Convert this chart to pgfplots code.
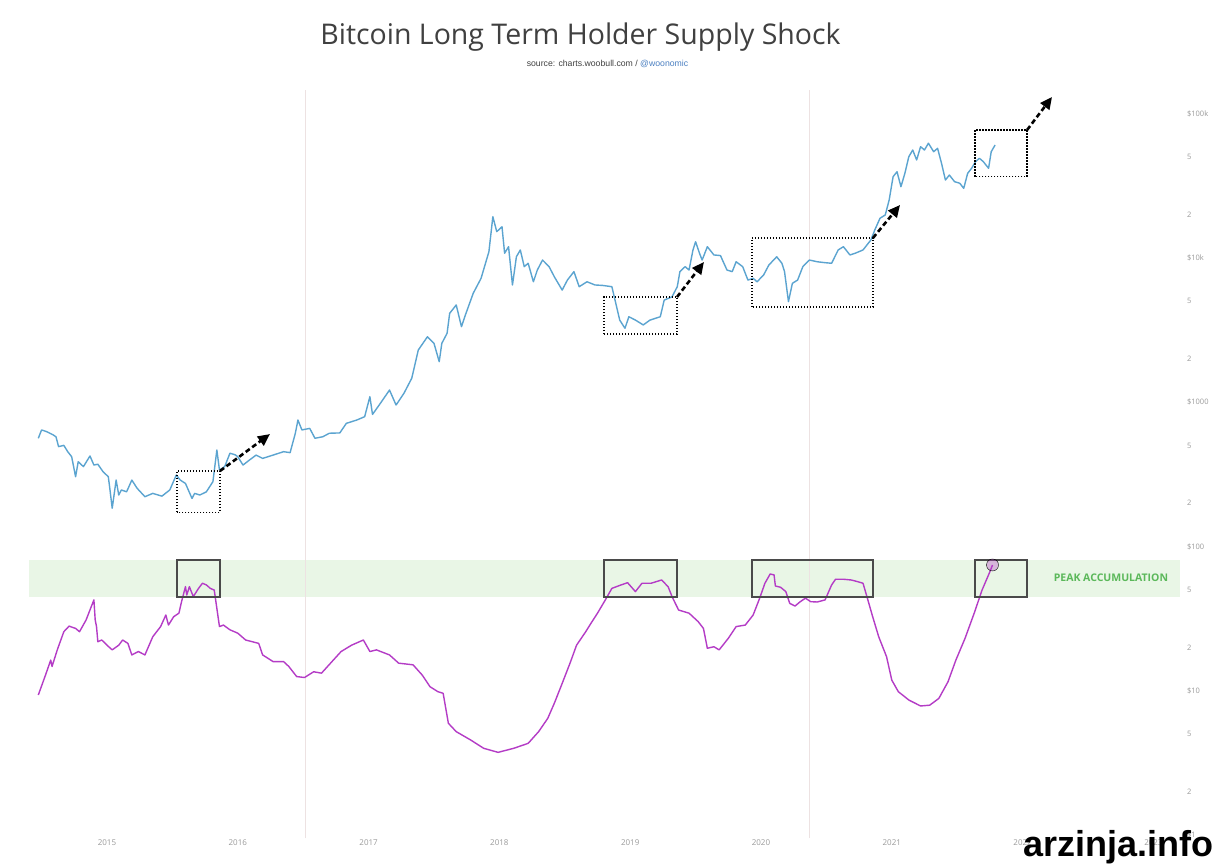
\documentclass[border=0pt]{standalone}
\usepackage{fontspec}
\setmainfont{Open Sans}
\newfontfamily\wmfont{Liberation Sans}
\usepackage{pgfplots}
\pgfplotsset{compat=1.18}
\usetikzlibrary{arrows.meta}
\definecolor{pricecol}{HTML}{5BA4D0}
\definecolor{ltcol}{HTML}{B43CC6}
\definecolor{bandcol}{HTML}{E9F6E6}
\definecolor{peakcol}{HTML}{5BB85A}
\definecolor{ticklab}{HTML}{9A9A9A}
\definecolor{halv}{HTML}{EDE2E2}
\definecolor{titlecol}{HTML}{404040}
\definecolor{boxcol}{HTML}{4A4A4A}
\definecolor{linkcol}{HTML}{4A7FC1}
\begin{document}
\begin{tikzpicture}
\path[use as bounding box, fill=white] (0,0) rectangle (1217pt,-864pt);
\pgfplotsset{every axis/.append style={scale only axis, width=1151.1pt,
  xmin=2014.4, xmax=2023.2, ymode=log, axis line style={draw=none},
  major tick style={draw=none}, minor tick style={draw=none},
  ytick pos=right, yticklabel pos=right,
  yticklabel style={anchor=west, font=\fontsize{7.5}{8}\selectfont, text=ticklab, xshift=4pt},
  /pgf/number format/assume math mode=true, clip=false}}
% Upper price axis
\begin{axis}[at={(28.5pt,-540pt)}, anchor=south west, height=450pt,
  ymin=110.1, ymax=146780, xtick=\empty,
  ytick={200,500,1000,2000,5000,10000,20000,50000,100000},
  yticklabels={2,5,\$1000,2,5,\$10k,2,5,\$100k}]
\draw[halv, line width=1pt] (axis cs:2016.52,110.1) -- (axis cs:2016.52,146780);
\draw[halv, line width=1pt] (axis cs:2020.37,110.1) -- (axis cs:2020.37,146780);
\addplot[pricecol, line width=1.4pt, line join=round] coordinates {
(2014.475,560)(2014.50,640)(2014.54,622)(2014.59,590)(2014.61,574)(2014.63,490)(2014.67,500)(2014.70,452)(2014.73,417)(2014.76,303)(2014.78,385)(2014.82,356)(2014.87,422)(2014.90,365)(2014.93,370)(2014.97,328)(2015.01,303)(2015.02,258)(2015.04,183)(2015.07,287)(2015.09,226)(2015.11,245)(2015.15,238)(2015.19,287)(2015.23,252)(2015.29,220)(2015.35,232)(2015.42,222)(2015.48,245)(2015.53,311)(2015.56,287)(2015.60,272)(2015.65,214)(2015.67,232)(2015.71,226)(2015.76,238)(2015.81,280)(2015.84,464)(2015.86,337)(2015.90,356)(2015.94,441)(2015.98,430)(2016.00,417)(2016.04,365)(2016.09,396)(2016.14,428)(2016.19,406)(2016.27,428)(2016.35,452)(2016.40,445)(2016.44,607)(2016.46,750)(2016.49,640)(2016.55,656)(2016.59,560)(2016.65,574)(2016.70,607)(2016.78,610)(2016.83,711)(2016.91,750)(2016.97,791)(2017.01,1089)(2017.03,820)(2017.09,979)(2017.16,1211)(2017.21,953)(2017.27,1148)(2017.33,1462)(2017.38,2296)(2017.45,2840)(2017.50,2556)(2017.54,1905)(2017.56,2556)(2017.60,3000)(2017.62,4130)(2017.67,4720)(2017.71,3335)(2017.74,4020)(2017.80,5690)(2017.86,7230)(2017.92,11070)(2017.95,19360)(2017.98,15240)(2018.02,16480)(2018.04,10790)(2018.07,11980)(2018.10,6494)(2018.13,10200)(2018.16,11370)(2018.19,8710)(2018.22,9190)(2018.26,6840)(2018.29,8250)(2018.33,9680)(2018.38,8710)(2018.42,7410)(2018.48,5990)(2018.52,7030)(2018.57,8040)(2018.61,6320)(2018.67,6840)(2018.73,6500)(2018.79,6450)(2018.86,6320)(2018.89,4840)(2018.92,3706)(2018.96,3250)(2018.99,3910)(2019.04,3706)(2019.10,3430)(2019.15,3700)(2019.23,3910)(2019.26,5100)(2019.32,5380)(2019.36,6320)(2019.38,8040)(2019.42,8710)(2019.45,8250)(2019.48,11370)(2019.50,12970)(2019.53,10790)(2019.55,9680)(2019.59,11980)(2019.64,10500)(2019.69,10400)(2019.74,8250)(2019.78,8040)(2019.81,9420)(2019.86,8710)(2019.90,7030)(2019.94,7230)(2019.97,6840)(2020.02,7620)(2020.06,8930)(2020.12,10200)(2020.16,9190)(2020.18,8040)(2020.21,4980)(2020.24,6670)(2020.28,7030)(2020.32,8710)(2020.37,9680)(2020.43,9420)(2020.48,9300)(2020.54,9190)(2020.59,11370)(2020.63,11980)(2020.68,10500)(2020.72,10790)(2020.78,11370)(2020.84,13340)(2020.87,15650)(2020.91,18890)(2020.95,19900)(2020.98,25300)(2021.01,36700)(2021.04,39720)(2021.07,31270)(2021.10,38730)(2021.13,50470)(2021.16,56230)(2021.19,47940)(2021.22,59290)(2021.25,56230)(2021.28,62690)(2021.32,54700)(2021.35,57780)(2021.38,45530)(2021.41,34800)(2021.44,37680)(2021.48,33880)(2021.52,33040)(2021.55,30460)(2021.58,38730)(2021.61,41960)(2021.64,46650)(2021.67,49250)(2021.70,46650)(2021.74,41960)(2021.76,54700)(2021.79,60940)
};
\tikzset{dbox/.style={black, line width=1.1pt, dash pattern=on 1.4pt off 1.6pt},
  darr/.style={black, line width=2.6pt, dash pattern=on 5pt off 3pt, -{Triangle[length=12pt,width=11pt]}}}
\draw[dbox] (axis cs:2015.535,172) rectangle (axis cs:2015.864,332);
\draw[dbox] (axis cs:2018.80,2966) rectangle (axis cs:2019.358,5360);
\draw[dbox] (axis cs:2019.931,4570) rectangle (axis cs:2020.856,13770);
\draw[dbox] (axis cs:2021.636,36700) rectangle (axis cs:2022.034,77420);
\draw[darr] (axis cs:2015.864,332) -- (axis cs:2016.246,599);
\draw[darr] (axis cs:2019.358,5360) -- (axis cs:2019.564,9380);
\draw[darr] (axis cs:2020.856,13770) -- (axis cs:2021.063,23340);
\draw[darr] (axis cs:2022.034,77420) -- (axis cs:2022.225,131200);
\end{axis}
% Lower LTH axis
\begin{axis}[at={(28.5pt,-838pt)}, anchor=south west, height=298pt,
  ymin=0.953, ymax=111.8,
  xtick={2015,2016,2017,2018,2019,2020,2021,2022,2023},
  xticklabels={2015,2016,2017,2018,2019,2020,2021,2022,2023},
  xticklabel style={anchor=center, yshift=-5pt, font=\fontsize{8}{9}\selectfont, text=ticklab},
  ytick={1,2,5,10,20,50,100},
  yticklabels={\$1,2,5,\$10,2,5,\$100}]
\fill[bandcol] (axis cs:2014.4,44.96) rectangle (axis cs:2023.2,81.2);
\draw[halv, line width=1pt] (axis cs:2016.52,0.953) -- (axis cs:2016.52,111.8);
\draw[halv, line width=1pt] (axis cs:2020.37,0.953) -- (axis cs:2020.37,111.8);
\node[anchor=east, text=peakcol, font=\bfseries\fontsize{10.5}{12}\selectfont, inner sep=0pt] at (axis cs:2023.114,61.2) {PEAK ACCUMULATION};
\addplot[ltcol, line width=1.4pt, line join=round] coordinates {
(2014.475,9.38)(2014.53,12.9)(2014.57,16.4)(2014.58,14.8)(2014.62,19.3)(2014.67,25.8)(2014.71,28.2)(2014.76,27.2)(2014.79,25.8)(2014.84,31.1)(2014.90,42.9)(2014.91,31.1)(2014.92,28.0)(2014.93,22.0)(2014.96,22.6)(2015.00,20.8)(2015.04,19.3)(2015.09,20.8)(2015.12,22.6)(2015.16,21.4)(2015.19,17.8)(2015.24,18.8)(2015.29,17.8)(2015.35,23.8)(2015.41,28.0)(2015.45,33.7)(2015.47,28.7)(2015.51,32.8)(2015.55,34.7)(2015.57,41.7)(2015.60,53.0)(2015.61,46.4)(2015.63,53.0)(2015.66,45.2)(2015.70,51.6)(2015.73,56.0)(2015.76,54.5)(2015.79,51.6)(2015.82,50.2)(2015.84,37.5)(2015.86,28.0)(2015.89,28.7)(2015.94,26.6)(2016.00,25.2)(2016.06,22.6)(2016.11,22.0)(2016.16,21.4)(2016.19,17.8)(2016.27,16.0)(2016.35,16.0)(2016.39,14.8)(2016.45,12.6)(2016.51,12.4)(2016.58,13.6)(2016.64,13.3)(2016.72,16.0)(2016.79,18.8)(2016.87,20.8)(2016.96,22.6)(2017.01,18.8)(2017.06,19.3)(2017.16,17.8)(2017.23,15.6)(2017.34,15.2)(2017.41,12.9)(2017.47,10.7)(2017.53,9.89)(2017.57,9.64)(2017.61,5.97)(2017.67,5.22)(2017.78,4.57)(2017.88,4.00)(2017.99,3.75)(2018.11,4.00)(2018.22,4.33)(2018.30,5.22)(2018.37,6.46)(2018.42,8.22)(2018.47,10.7)(2018.54,15.6)(2018.59,20.8)(2018.66,25.8)(2018.70,29.5)(2018.75,34.7)(2018.81,42.9)(2018.86,51.6)(2018.93,54.5)(2018.98,56.5)(2019.04,49.0)(2019.09,56.0)(2019.16,56.0)(2019.24,59.0)(2019.29,53.0)(2019.32,45.2)(2019.37,36.5)(2019.45,34.7)(2019.52,30.3)(2019.56,27.2)(2019.59,19.8)(2019.64,20.3)(2019.68,19.3)(2019.75,23.2)(2019.81,28.0)(2019.88,28.7)(2019.94,33.7)(2019.99,44.1)(2020.03,56.0)(2020.07,64.9)(2020.10,64.0)(2020.11,53.6)(2020.15,52.5)(2020.19,49.0)(2020.22,40.6)(2020.26,38.9)(2020.30,41.7)(2020.34,44.1)(2020.38,41.7)(2020.43,41.5)(2020.49,42.9)(2020.54,54.5)(2020.57,59.7)(2020.63,59.7)(2020.69,59.0)(2020.74,57.4)(2020.78,56.0)(2020.81,45.2)(2020.85,33.7)(2020.90,23.8)(2020.96,17.3)(2021.00,11.9)(2021.05,9.89)(2021.13,8.66)(2021.22,7.87)(2021.29,7.97)(2021.36,8.89)(2021.43,11.6)(2021.49,16.4)(2021.56,23.2)(2021.63,34.7)(2021.69,50.2)(2021.75,67.3)(2021.77,75.0)
};
\addplot[only marks, mark=*, mark size=6pt, mark options={draw=none, fill=ltcol, fill opacity=0.35}] coordinates {(2021.77,75.0)};
\tikzset{lbox/.style={boxcol, line width=1.5pt}}
\draw[lbox] (axis cs:2015.535,44.96) rectangle (axis cs:2015.864,81.2);
\draw[lbox] (axis cs:2018.80,44.96) rectangle (axis cs:2019.358,81.2);
\draw[lbox] (axis cs:2019.931,44.96) rectangle (axis cs:2020.856,81.2);
\draw[lbox] (axis cs:2021.636,44.96) rectangle (axis cs:2022.034,81.2);
\end{axis}
\node[anchor=base, text=titlecol, font=\fontsize{28.5}{30}\selectfont] at (580.5pt,-45pt) {Bitcoin Long Term Holder Supply Shock};
\node[anchor=base, text=titlecol, font=\wmfont\fontsize{8.7}{10}\selectfont] at (607.5pt,-67pt) {source: charts.woobull.com / \textcolor{linkcol}{@woonomic}};
\node[anchor=base east, text=black, font=\wmfont\bfseries\fontsize{36}{40}\selectfont, inner sep=0pt] at (1214pt,-856pt) {arzinja.info};
\end{tikzpicture}
\end{document}
